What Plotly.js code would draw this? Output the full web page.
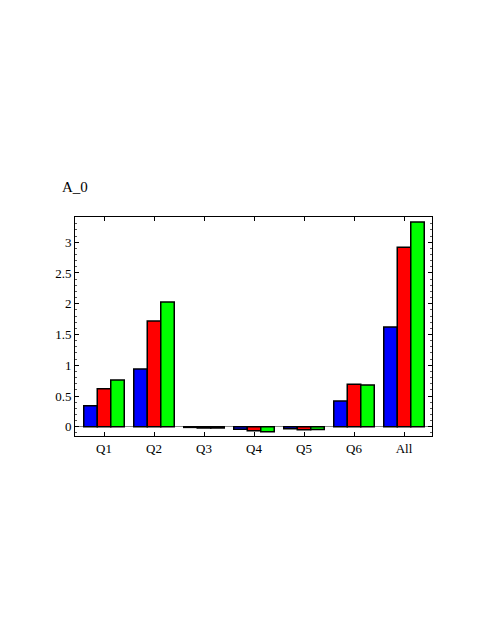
<!DOCTYPE html>
<html>
<head>
<meta charset="utf-8">
<script src="https://cdn.plot.ly/plotly-3.0.1.min.js"></script>
<style>
  html, body { margin: 0; padding: 0; background: #fff; }
  #plot { width: 491px; height: 635px; }
</style>
</head>
<body>
<div id="plot"></div>
<script>
const categories = ["Q1", "Q2", "Q3", "Q4", "Q5", "Q6", "All"];
const blueVals  = [0.34, 0.94, -0.01, -0.04, -0.033, 0.42, 1.62];
const redVals   = [0.62, 1.72, -0.02, -0.065, -0.05, 0.69, 2.92];
const greenVals = [0.76, 2.03, -0.02, -0.08, -0.045, 0.68, 3.33];
const yTicks = [0, 0.5, 1, 1.5, 2, 2.5, 3];
const yTickText = ["0", "0.5", "1", "1.5", "2", "2.5", "3"];

const serif = "'Liberation Serif', 'Times New Roman', serif";

const makeBar = (vals, color) => ({
  x: categories,
  y: vals,
  type: "bar",
  marker: { color: color, line: { color: "#000", width: 1.5 } },
  hoverinfo: "y"
});

const data = [
  makeBar(blueVals, "#0000ff"),
  makeBar(redVals, "#ff0000"),
  makeBar(greenVals, "#00ff00")
];

const layout = {
  width: 491,
  height: 635,
  margin: { l: 75, r: 59, t: 217, b: 199 },
  paper_bgcolor: "#fff",
  plot_bgcolor: "#fff",
  showlegend: false,
  barmode: "group",
  bargap: 0.19,
  bargroupgap: 0,
  font: { family: serif, size: 13, color: "#000" },
  title: {
    text: "A_0",
    font: { family: serif, size: 15, color: "#000" },
    x: 62 / 491, xanchor: "left",
    y: 1 - 187 / 635, yanchor: "middle"
  },
  xaxis: {
    range: [-0.58, 6.56],
    showline: true, linecolor: "#000", linewidth: 1,
    mirror: "ticks",
    ticks: "inside", ticklen: 4, tickcolor: "#000",
    showgrid: false, zeroline: false,
    tickfont: { family: serif, size: 13 }
  },
  yaxis: {
    range: [-0.15, 3.41],
    tickvals: yTicks, ticktext: yTickText,
    showline: true, linecolor: "#000", linewidth: 1,
    mirror: "ticks",
    ticks: "inside", ticklen: 4, tickcolor: "#000",
    minor: { dtick: 0.1, ticks: "inside", ticklen: 2, tickcolor: "#555" },
    showgrid: false,
    zeroline: true, zerolinecolor: "#888", zerolinewidth: 1,
    tickfont: { family: serif, size: 13 }
  }
};

Plotly.newPlot("plot", data, layout, { displayModeBar: false, staticPlot: true });
</script>
</body>
</html>
